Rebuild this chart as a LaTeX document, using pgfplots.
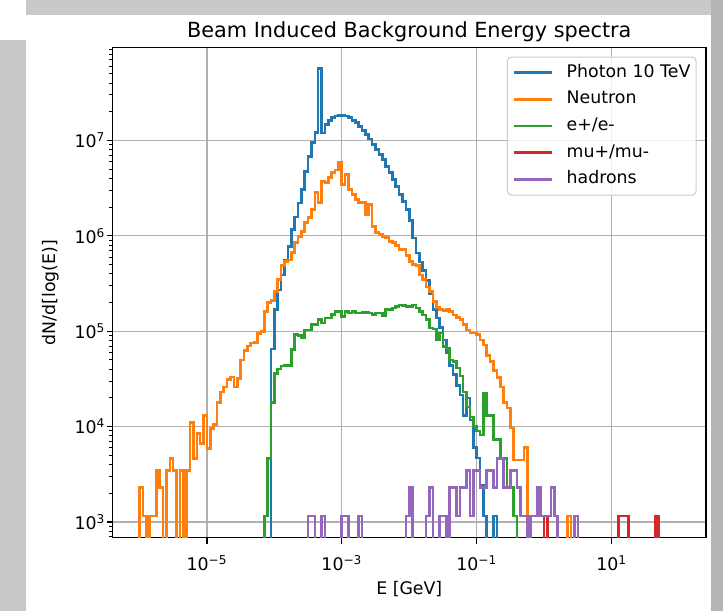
\documentclass[border=0pt]{standalone}
\usepackage{fontspec}
\setmainfont{DejaVu Sans}
\usepackage{pgfplots}
\pgfplotsset{compat=1.18}
\definecolor{cA}{HTML}{1F77B4}
\definecolor{cB}{HTML}{FF7F0E}
\definecolor{cC}{HTML}{2CA02C}
\definecolor{cD}{HTML}{D62728}
\definecolor{cE}{HTML}{9467BD}
\definecolor{gridc}{HTML}{B0B0B0}
\definecolor{framec}{HTML}{C9C9C9}
\begin{document}
\begin{tikzpicture}[x=0.75pt,y=0.75pt]
\path[use as bounding box] (0,0) rectangle (723,611);
\fill[white] (0,0) rectangle (723,611);
\fill[framec] (0,0) rectangle (26,571);
\fill[framec] (26,596) rectangle (723,611);
\fill[framec!90!black] (711,0) rectangle (723,611);
\begin{axis}[
  at={(84.375pt,54.98pt)}, anchor=south west,
  scale only axis, width=445.1pt, height=367.8pt,
  xmin=-6.4, xmax=2.4,
  ymode=log, ymin=684, ymax=9.48e7,
  axis line style={line width=0.9pt},
  tick align=outside, tick pos=left,
  major tick length=4.5pt, minor tick length=2.6pt,
  every tick/.style={black, line width=0.9pt},
  minor tick style={line width=0.7pt},
  xtick={-5,-3,-1,1},
  xticklabels={10\textsuperscript{−5},10\textsuperscript{−3},10\textsuperscript{−1},10\textsuperscript{1}},
  ytick={1e3,1e4,1e5,1e6,1e7},
  yticklabels={10\textsuperscript{3},10\textsuperscript{4},10\textsuperscript{5},10\textsuperscript{6},10\textsuperscript{7}},
  minor ytick={700,800,900,2000,3000,4000,5000,6000,7000,8000,9000,
    2e4,3e4,4e4,5e4,6e4,7e4,8e4,9e4,2e5,3e5,4e5,5e5,6e5,7e5,8e5,9e5,
    2e6,3e6,4e6,5e6,6e6,7e6,8e6,9e6,2e7,3e7,4e7,5e7,6e7,7e7,8e7,9e7},
  minor xtick={},
  ticklabel style={font=\fontsize{13}{15}\selectfont},
  xticklabel style={yshift=-5.5pt},
  yticklabel style={xshift=2.5pt},
  xmajorgrids, ymajorgrids,
  major grid style={gridc, line width=0.9pt},
  legend style={at={(1,1)}, anchor=north east, xshift=-7pt, yshift=-7pt,
    draw=black!20, line width=0.75pt, rounded corners=3pt, fill=white,
    fill opacity=0.8, text opacity=1, font=\fontsize{13}{15}\selectfont,
    inner xsep=4.3pt, inner ysep=5.5pt, row sep=7.5pt, column sep=10pt,
    nodes={inner sep=0pt, text height=9.5pt, text depth=3pt}},
  legend cell align=left,
  legend image code/.code={\draw[#1, line width=1.95pt] (0pt,0pt) -- (28.2pt,0pt);},
]
% Photon 10 TeV
\addplot[cA, line width=1.95pt, const plot] coordinates {
(-4.05,1) (-4.05,6.5e4) (-4.00,1.7e5) (-3.95,2.7e5) (-3.90,3.9e5) (-3.85,5.6e5) (-3.80,7.7e5)
(-3.75,1.16e6) (-3.70,1.58e6) (-3.65,2.2e6) (-3.60,3.06e6) (-3.55,4.7e6) (-3.50,6.8e6)
(-3.45,9.5e6) (-3.40,1.22e7) (-3.35,5.7e7) (-3.30,1.2e7) (-3.25,1.47e7) (-3.20,1.63e7)
(-3.15,1.73e7) (-3.10,1.8e7) (-3.05,1.83e7) (-3.00,1.83e7) (-2.95,1.8e7) (-2.90,1.73e7)
(-2.85,1.63e7) (-2.80,1.55e7) (-2.75,1.41e7) (-2.70,1.28e7) (-2.65,1.16e7) (-2.60,1.04e7)
(-2.55,9.1e6) (-2.50,8.0e6) (-2.45,7.1e6) (-2.40,6.3e6) (-2.35,5.37e6) (-2.30,4.58e6)
(-2.25,3.9e6) (-2.20,3.3e6) (-2.15,2.7e6) (-2.10,2.3e6) (-2.05,1.88e6) (-2.00,1.45e6)
(-1.95,9.5e5) (-1.90,6.6e5) (-1.85,5.3e5) (-1.80,4.3e5) (-1.75,3.4e5) (-1.70,2.5e5)
(-1.65,1.7e5) (-1.60,1.38e5) (-1.55,1.1e5) (-1.50,8.1e4) (-1.45,6.0e4) (-1.40,4.4e4)
(-1.35,3.5e4) (-1.30,2.7e4) (-1.25,2.15e4) (-1.20,1.3e4) (-1.15,2.0e4) (-1.10,1.17e4)
(-1.05,6.0e3) (-1.00,4.7e3) (-0.95,2.45e3) (-0.90,1.15e3) (-0.85,1) (-0.75,1.15e3) (-0.70,1)
};
\addlegendentry{Photon 10 TeV}
% Neutron
\addplot[cB, line width=1.95pt, const plot] coordinates {
(-6.00,1) (-6.00,2.3e3) (-5.95,1.15e3) (-5.90,1) (-5.85,1.15e3) (-5.80,1.15e3) (-5.75,3.45e3)
(-5.70,2.3e3) (-5.65,1) (-5.60,3.45e3) (-5.55,4.6e3) (-5.50,3.45e3) (-5.45,1) (-5.40,3.45e3)
(-5.35,1) (-5.30,3.45e3) (-5.25,1.1e4) (-5.20,4.6e3) (-5.15,8.5e3) (-5.10,6.6e3) (-5.05,1.3e4)
(-5.00,5.9e3) (-4.95,9.5e3) (-4.90,1.05e4) (-4.85,1.8e4) (-4.80,2.3e4) (-4.75,2.6e4)
(-4.70,3.1e4) (-4.65,3.3e4) (-4.60,2.6e4) (-4.55,3.2e4) (-4.50,5.0e4) (-4.45,6.3e4)
(-4.40,7.0e4) (-4.35,7.5e4) (-4.30,7.6e4) (-4.25,9.5e4) (-4.20,1.0e5) (-4.15,1.6e5)
(-4.10,2.0e5) (-4.05,2.1e5) (-4.00,2.6e5) (-3.95,3.5e5) (-3.90,4.9e5) (-3.85,5.4e5)
(-3.80,5.6e5) (-3.75,6.7e5) (-3.70,8.5e5) (-3.65,9.9e5) (-3.60,1.11e6) (-3.55,1.38e6)
(-3.50,1.55e6) (-3.45,1.88e6) (-3.40,2.85e6) (-3.35,2.24e6) (-3.30,3.7e6) (-3.25,3.6e6)
(-3.20,4.1e6) (-3.15,4.6e6) (-3.10,4.9e6) (-3.05,5.97e6) (-3.00,3.45e6) (-2.95,4.4e6)
(-2.90,3.05e6) (-2.85,2.7e6) (-2.80,2.4e6) (-2.75,2.24e6) (-2.70,2.24e6) (-2.65,1.67e6)
(-2.60,2.13e6) (-2.55,1.26e6) (-2.50,1.08e6) (-2.45,1.03e6) (-2.40,9.9e5) (-2.35,9.6e5)
(-2.30,8.75e5) (-2.25,8.5e5) (-2.20,7.9e5) (-2.15,7.2e5) (-2.10,7.2e5) (-2.05,6.2e5)
(-2.00,5.4e5) (-1.95,5.0e5) (-1.90,4.9e5) (-1.85,3.9e5) (-1.80,3.5e5) (-1.75,2.9e5)
(-1.70,2.6e5) (-1.65,2.04e5) (-1.60,1.76e5) (-1.55,1.68e5) (-1.50,1.65e5) (-1.45,1.68e5)
(-1.40,1.6e5) (-1.35,1.48e5) (-1.30,1.4e5) (-1.25,1.32e5) (-1.20,1.17e5) (-1.15,1.03e5)
(-1.10,9.6e4) (-1.05,9.6e4) (-1.00,9.3e4) (-0.95,8.1e4) (-0.90,7.2e4) (-0.85,5.6e4)
(-0.80,4.8e4) (-0.75,3.9e4) (-0.70,3.25e4) (-0.65,2.6e4) (-0.60,1.78e4) (-0.55,1.57e4)
(-0.50,9.7e3) (-0.45,4.45e3) (-0.40,4.45e3) (-0.35,4.45e3) (-0.30,6.0e3) (-0.25,1.15e3)
(-0.20,1) (0.35,1.15e3) (0.40,1)
};
\addlegendentry{Neutron}
% e+/e-
\addplot[cC, line width=1.95pt, const plot] coordinates {
(-4.15,1) (-4.15,1.15e3) (-4.10,4.6e3) (-4.05,1.8e4) (-4.00,3.6e4) (-3.95,4.0e4) (-3.90,4.3e4)
(-3.85,4.4e4) (-3.80,4.4e4) (-3.75,6.4e4) (-3.70,9.2e4) (-3.65,9.0e4) (-3.60,8.5e4)
(-3.55,1.03e5) (-3.50,1.03e5) (-3.45,1.17e5) (-3.40,1.17e5) (-3.35,1.32e5) (-3.30,1.22e5)
(-3.25,1.37e5) (-3.20,1.37e5) (-3.15,1.5e5) (-3.10,1.61e5) (-3.05,1.61e5) (-3.00,1.43e5)
(-2.95,1.61e5) (-2.90,1.55e5) (-2.85,1.61e5) (-2.80,1.55e5) (-2.75,1.55e5) (-2.70,1.58e5)
(-2.65,1.58e5) (-2.60,1.55e5) (-2.55,1.5e5) (-2.50,1.55e5) (-2.45,1.55e5) (-2.40,1.45e5)
(-2.35,1.68e5) (-2.30,1.68e5) (-2.25,1.75e5) (-2.20,1.82e5) (-2.15,1.89e5) (-2.10,1.85e5)
(-2.05,1.82e5) (-2.00,1.82e5) (-1.95,1.89e5) (-1.90,1.75e5) (-1.85,1.61e5) (-1.80,1.48e5)
(-1.75,1.32e5) (-1.70,1.08e5) (-1.65,1.05e5) (-1.60,8.1e4) (-1.55,9.6e4) (-1.50,6.9e4)
(-1.45,6.6e4) (-1.40,5.0e4) (-1.35,4.8e4) (-1.30,4.1e4) (-1.25,3.4e4) (-1.20,2.3e4)
(-1.15,1.6e4) (-1.10,1.26e4) (-1.05,1.0e4) (-1.00,9.0e3) (-0.95,8.2e3) (-0.90,2.24e4)
(-0.85,1.3e4) (-0.80,1.3e4) (-0.75,7.3e3) (-0.70,7.3e3) (-0.65,4.6e3) (-0.60,4.6e3)
(-0.55,2.3e3) (-0.50,2.3e3) (-0.45,1.15e3) (-0.40,1) (-0.25,1.15e3) (-0.20,1)
};
\addlegendentry{e+/e-}
% mu+/mu-
\addplot[cD, line width=1.95pt, const plot] coordinates {
(0.00,1) (0.00,1.15e3) (0.05,1) (1.10,1.15e3) (1.15,1.15e3) (1.20,1.15e3) (1.25,1)
(1.65,1.15e3) (1.70,1)
};
\addlegendentry{mu+/mu-}
% hadrons
\addplot[cE, line width=1.95pt, const plot] coordinates {
(-3.50,1) (-3.50,1.15e3) (-3.45,1.15e3) (-3.40,1) (-3.30,1.15e3) (-3.25,1) (-3.00,1.15e3)
(-2.95,1.15e3) (-2.90,1) (-2.75,1.15e3) (-2.70,1) (-2.05,1.15e3) (-2.00,2.3e3) (-1.95,1)
(-1.75,1.15e3) (-1.70,2.3e3) (-1.65,1) (-1.55,1.15e3) (-1.50,1.15e3) (-1.45,1)
(-1.40,2.3e3) (-1.35,2.3e3) (-1.30,1.15e3) (-1.25,2.3e3) (-1.20,2.3e3) (-1.15,3.45e3)
(-1.10,1.15e3) (-1.05,3.45e3) (-1.00,3.45e3) (-0.95,2.3e3) (-0.90,2.3e3) (-0.85,3.45e3)
(-0.80,3.45e3) (-0.75,2.3e3) (-0.70,4.6e3) (-0.65,4.6e3) (-0.60,2.3e3) (-0.55,2.3e3)
(-0.50,3.45e3) (-0.45,3.45e3) (-0.40,2.3e3) (-0.35,1.15e3) (-0.30,1.15e3) (-0.25,1)
(-0.20,1.15e3) (-0.15,1.15e3) (-0.10,2.3e3) (-0.05,1.15e3) (0.00,1.15e3) (0.05,1.15e3)
(0.10,2.3e3) (0.15,1.15e3) (0.20,1) (0.45,1.15e3) (0.50,1)
};
\addlegendentry{hadrons}
\end{axis}
\node[anchor=base, font=\fontsize{15.6}{18}\selectfont] at (409.3,573.5) {Beam Induced Background Energy spectra};
\node[anchor=base, font=\fontsize{13}{15}\selectfont] at (409.3,16.5) {E [GeV]};
\node[rotate=90, font=\fontsize{13}{15}\selectfont] at (51,318.5) {dN/d[log(E)]};
\end{tikzpicture}
\end{document}
